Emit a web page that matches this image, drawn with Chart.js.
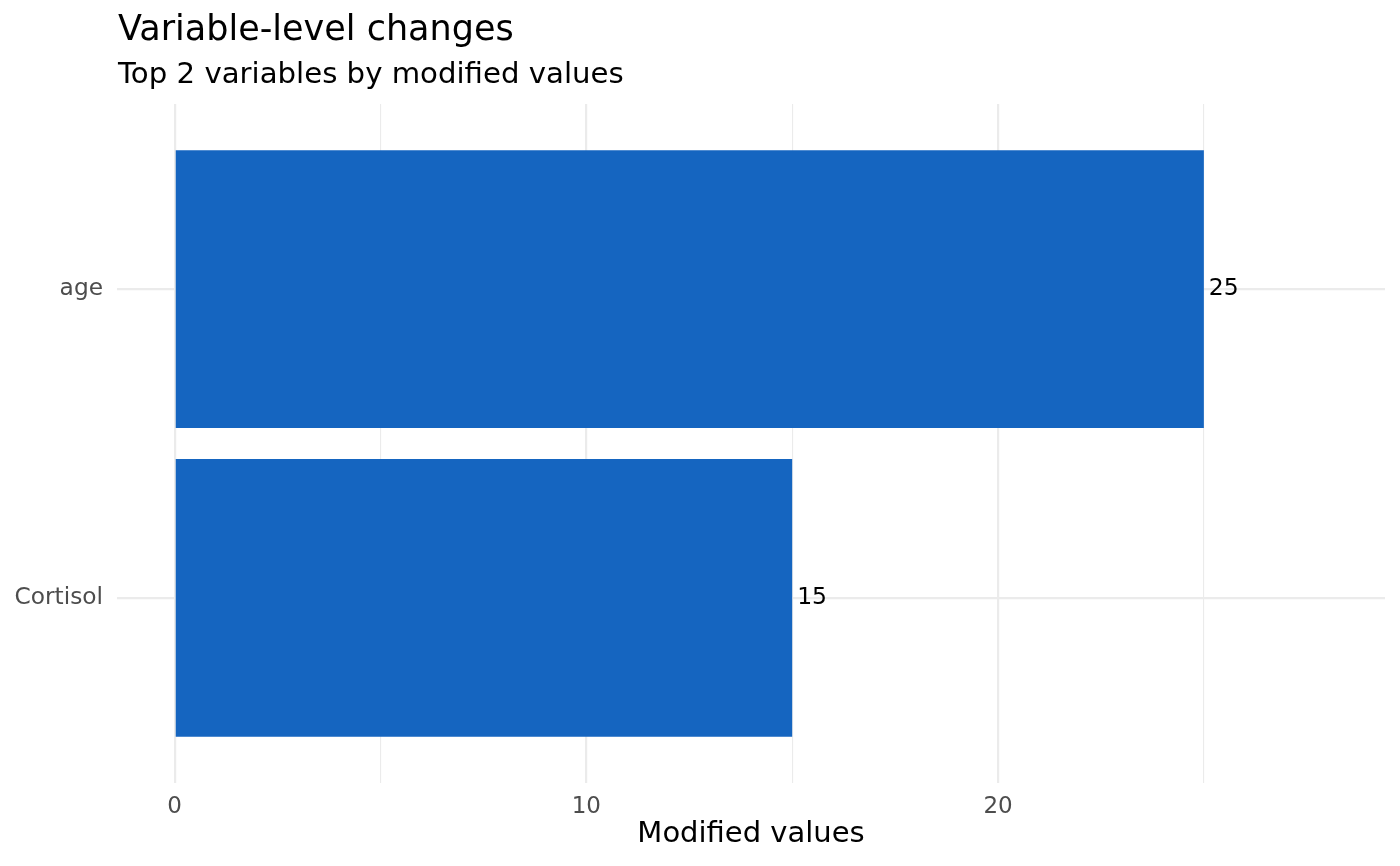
<!DOCTYPE html>
<html>
<head>
<meta charset="utf-8">
<script src="https://cdn.jsdelivr.net/npm/chart.js@4.4.1/dist/chart.umd.min.js"></script>
<style>
  html, body { margin: 0; padding: 0; background: #ffffff; }
  #wrap { width: 1400px; height: 866px; }
</style>
</head>
<body>
<div id="wrap"><canvas id="c" width="1400" height="866"></canvas></div>
<script>
// ---- data ----
const categories = ['age', 'Cortisol'];
const modifiedValues = [25, 15];
const xTickValues = [0, 5, 10, 15, 20, 25];
const xLabelledTicks = [0, 10, 20];
const titleText = 'Variable-level changes';
const subtitleText = 'Top 2 variables by modified values';
const xAxisTitle = 'Modified values';

const FONT = "'DejaVu Sans', sans-serif";

const points = categories.map((c, i) => ({ x: modifiedValues[i], y: i + 1 }));

const titlePlugin = {
  id: 'ggTitle',
  afterDraw(chart) {
    const ctx = chart.ctx;
    const left = chart.chartArea.left;
    ctx.save();
    ctx.fillStyle = '#000000';
    ctx.textAlign = 'left';
    ctx.textBaseline = 'alphabetic';
    ctx.font = "35px " + FONT;
    ctx.fillText(titleText, left + 1, 40);
    ctx.font = "29.2px " + FONT;
    ctx.fillText(subtitleText, left + 1, 83);
    ctx.restore();
  }
};

const valueLabelPlugin = {
  id: 'valueLabels',
  afterDatasetsDraw(chart) {
    const ctx = chart.ctx;
    const meta = chart.getDatasetMeta(0);
    ctx.save();
    ctx.fillStyle = '#000000';
    ctx.font = "23.5px " + FONT;
    ctx.textAlign = 'left';
    ctx.textBaseline = 'middle';
    meta.data.forEach((bar, i) => {
      ctx.fillText(String(modifiedValues[i]), bar.x + 5, bar.y);
    });
    ctx.restore();
  }
};

new Chart(document.getElementById('c'), {
  type: 'bar',
  data: {
    datasets: [{
      data: points,
      backgroundColor: '#1565C0',
      borderWidth: 0,
      barPercentage: 0.9,
      categoryPercentage: 1.0
    }]
  },
  options: {
    indexAxis: 'y',
    responsive: false,
    animation: false,
    layout: { padding: { top: 104, right: 15, bottom: 0, left: 0 } },
    plugins: {
      legend: { display: false },
      tooltip: { enabled: false },
      title: { display: false }
    },
    scales: {
      x: {
        type: 'linear',
        min: -1.4,
        max: 29.4,
        offset: false,
        afterBuildTicks(scale) {
          scale.ticks = xTickValues.map(v => ({ value: v }));
        },
        afterFit(scale) { scale.height = 83; },
        border: { display: false },
        grid: {
          offset: false,
          drawTicks: false,
          color: '#ebebeb',
          lineWidth: (ctx) => (ctx.tick && xLabelledTicks.includes(ctx.tick.value)) ? 2.2 : 1.1
        },
        ticks: {
          padding: 10,
          color: '#4d4d4d',
          font: { family: FONT, size: 23 },
          autoSkip: false,
          maxRotation: 0,
          callback: (v) => xLabelledTicks.includes(v) ? String(v) : ''
        },
        title: {
          display: true,
          text: xAxisTitle,
          color: '#000000',
          font: { family: FONT, size: 29 },
          padding: { top: 0, bottom: 14 }
        }
      },
      y: {
        type: 'linear',
        min: 0.4,
        max: 2.6,
        reverse: true,
        offset: false,
        afterBuildTicks(scale) {
          scale.ticks = categories.map((c, i) => ({ value: i + 1 }));
        },
        afterFit(scale) { scale.width = 117; },
        border: { display: false },
        grid: {
          offset: false,
          drawTicks: false,
          color: '#ebebeb',
          lineWidth: 2.2
        },
        ticks: {
          padding: 14,
          color: '#4d4d4d',
          font: { family: FONT, size: 23.3 },
          autoSkip: false,
          callback: (v) => categories[Math.round(v) - 1] || ''
        }
      }
    }
  },
  plugins: [titlePlugin, valueLabelPlugin]
});
</script>
</body>
</html>
